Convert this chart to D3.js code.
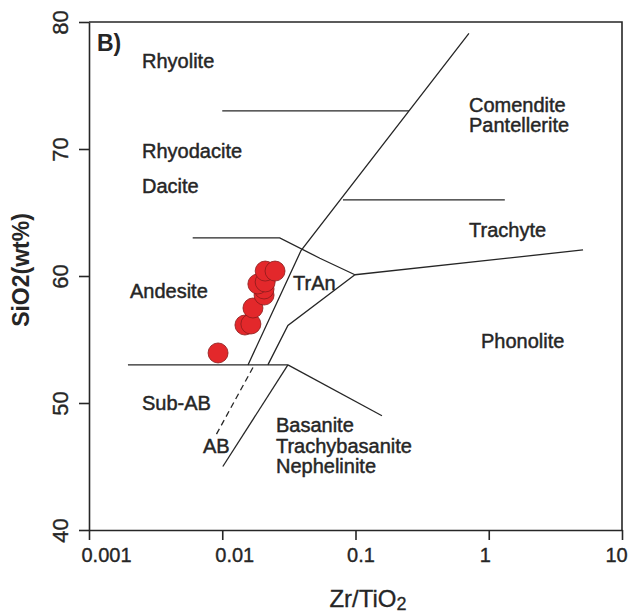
<!DOCTYPE html>
<html>
<head>
<meta charset="utf-8">
<script src="https://cdn.jsdelivr.net/npm/d3@7"></script>
<style>
  body { margin: 0; background: #fff; }
  svg { font-family: "Liberation Sans", Arial, sans-serif; }
</style>
</head>
<body>
<div id="chart"></div>
<script>
// sample values (Zr/TiO2 vs SiO2 wt%)
var zrTi = [0.0093, 0.0148, 0.0164, 0.0170, 0.0206, 0.0206, 0.0185, 0.0210, 0.0210, 0.0249];
var sio2 = [53.94, 56.14, 56.22, 57.48, 58.50, 58.98, 59.37, 59.53, 60.39, 60.39];

// field boundaries, [Zr/TiO2, SiO2]
var rhyoliteBase = [[0.01, 73], [0.252, 73]];
var mainDivide = [[0.71, 79.1], [0.039, 62], [0.0156, 53]];
var trachyteTop = [[0.0805, 66], [1.32, 66]];
var tranTop = [[0.006, 63], [0.027, 63], [0.054, 61.4], [0.099, 60.1]];
var phonoliteTop = [[0.099, 60.1], [5.1, 62.05]];
var tranBottom = [[0.099, 60.1], [0.0311, 56.1], [0.022, 53]];
var basaltTop = [[0.00196, 53], [0.0311, 53]];
var basaniteTop = [[0.0311, 53], [0.158, 49]];
var basaniteLeft = [[0.0311, 53], [0.0101, 45]];
var abDivide = [[0.017, 52.8], [0.009, 47.5]];

var solidLines = [rhyoliteBase, mainDivide, trachyteTop, tranTop, phonoliteTop,
  tranBottom, basaltTop, basaniteTop, basaniteLeft];

var fieldNames = ["Rhyolite", "Rhyodacite", "Dacite", "Andesite", "TrAn", "Sub-AB", "AB",
  "Basanite", "Trachybasanite", "Nephelinite", "Comendite", "Pantellerite", "Trachyte", "Phonolite"];
var fieldZr = [0.0025, 0.0025, 0.0025, 0.00203, 0.034, 0.0025, 0.00717,
  0.0253, 0.0253, 0.0253, 0.711, 0.711, 0.711, 0.875];
var fieldSi = [76.38, 69.29, 66.54, 58.27, 58.9, 49.45, 46.1,
  47.72, 46.06, 44.45, 72.91, 71.34, 63.07, 54.33];

var xTicks = [0.001, 0.01, 0.1, 1, 10];
var xTickLabels = ["0.001", "0.01", "0.1", "1", "10"];
var yTicks = [40, 50, 60, 70, 80];

var svgWidth = 635;
var svgHeight = 614;

var margin = { top: 22, right: 13, bottom: 84, left: 89 };
var width = svgWidth - margin.left - margin.right;
var height = svgHeight - margin.top - margin.bottom;

var ink = "#262626";

var svg = d3.select("#chart")
  .append("svg")
  .attr("width", svgWidth)
  .attr("height", svgHeight);

var chartGroup = svg.append("g")
  .attr("transform", `translate(${margin.left}, ${margin.top})`);

var xScale = d3.scaleLog().domain([0.001, 10]).range([0, width]);
var yScale = d3.scaleLinear().domain([40, 80]).range([height, 0]);

// frame top + right
chartGroup.append("path")
  .attr("d", `M0,0H${width}V${height}`)
  .attr("fill", "none")
  .attr("stroke", ink)
  .attr("stroke-width", 1.6);

// x axis
var labelNudge = [17, 12, 5, -4, -6];
var bottomAxis = d3.axisBottom(xScale)
  .tickValues(xTicks)
  .tickFormat((d, i) => xTickLabels[i])
  .tickSize(10)
  .tickPadding(8)
  .tickSizeOuter(0);

var xAxis = chartGroup.append("g")
  .attr("transform", `translate(0, ${height})`)
  .call(bottomAxis);

xAxis.selectAll("text")
  .attr("x", (d, i) => labelNudge[i])
  .attr("font-size", 20)
  .attr("fill", ink)
  .attr("stroke", ink)
  .attr("stroke-width", 0.35);

// y axis
var leftAxis = d3.axisLeft(yScale)
  .tickValues(yTicks)
  .tickSize(10)
  .tickSizeOuter(0);

var yAxis = chartGroup.append("g")
  .call(leftAxis);

yAxis.selectAll("text")
  .attr("transform", "rotate(-90)")
  .attr("x", 0)
  .attr("y", -21)
  .attr("dy", 0)
  .attr("text-anchor", "middle")
  .attr("font-size", 22)
  .attr("fill", ink)
  .attr("stroke", ink)
  .attr("stroke-width", 0.35);

[xAxis, yAxis].forEach(function(ax) {
  ax.select(".domain").attr("stroke", ink).attr("stroke-width", 1.6);
  ax.selectAll(".tick line").attr("stroke", ink).attr("stroke-width", 1.6);
});

// field boundaries
var line = d3.line()
  .x(d => xScale(d[0]))
  .y(d => yScale(d[1]));

chartGroup.selectAll(".boundary")
  .data(solidLines)
  .enter()
  .append("path")
  .attr("class", "boundary")
  .attr("d", line)
  .attr("fill", "none")
  .attr("stroke", ink)
  .attr("stroke-width", 1.3);

chartGroup.append("path")
  .attr("d", line(abDivide))
  .attr("fill", "none")
  .attr("stroke", ink)
  .attr("stroke-width", 1.3)
  .attr("stroke-dasharray", "6,4");

// field names
chartGroup.selectAll(".field")
  .data(fieldNames)
  .enter()
  .append("text")
  .attr("class", "field")
  .attr("x", (d, i) => xScale(fieldZr[i]))
  .attr("y", (d, i) => yScale(fieldSi[i]))
  .attr("font-size", 20)
  .attr("fill", ink)
  .attr("stroke", ink)
  .attr("stroke-width", 0.45)
  .text(d => d);

chartGroup.append("text")
  .attr("x", 8)
  .attr("y", 29)
  .attr("font-size", 23)
  .attr("font-weight", "bold")
  .attr("fill", ink)
  .text("B)");

// samples
chartGroup.selectAll("circle")
  .data(zrTi)
  .enter()
  .append("circle")
  .attr("cx", d => xScale(d))
  .attr("cy", (d, i) => yScale(sio2[i]))
  .attr("r", 10)
  .attr("fill", "#e3282b")
  .attr("stroke", "#8a1c1c")
  .attr("stroke-width", 0.8);

// axis titles
var xTitle = svg.append("text")
  .attr("x", 368)
  .attr("y", 607)
  .attr("text-anchor", "middle")
  .attr("font-size", 24)
  .attr("fill", ink)
  .attr("stroke", ink)
  .attr("stroke-width", 0.3);
xTitle.append("tspan").text("Zr/TiO");
xTitle.append("tspan").attr("font-size", 18).attr("dy", 3).text("2");

svg.append("text")
  .attr("transform", "translate(29, 270) rotate(-90)")
  .attr("text-anchor", "middle")
  .attr("font-size", 23)
  .attr("font-weight", "bold")
  .attr("fill", ink)
  .text("SiO2(wt%)");
</script>
</body>
</html>
